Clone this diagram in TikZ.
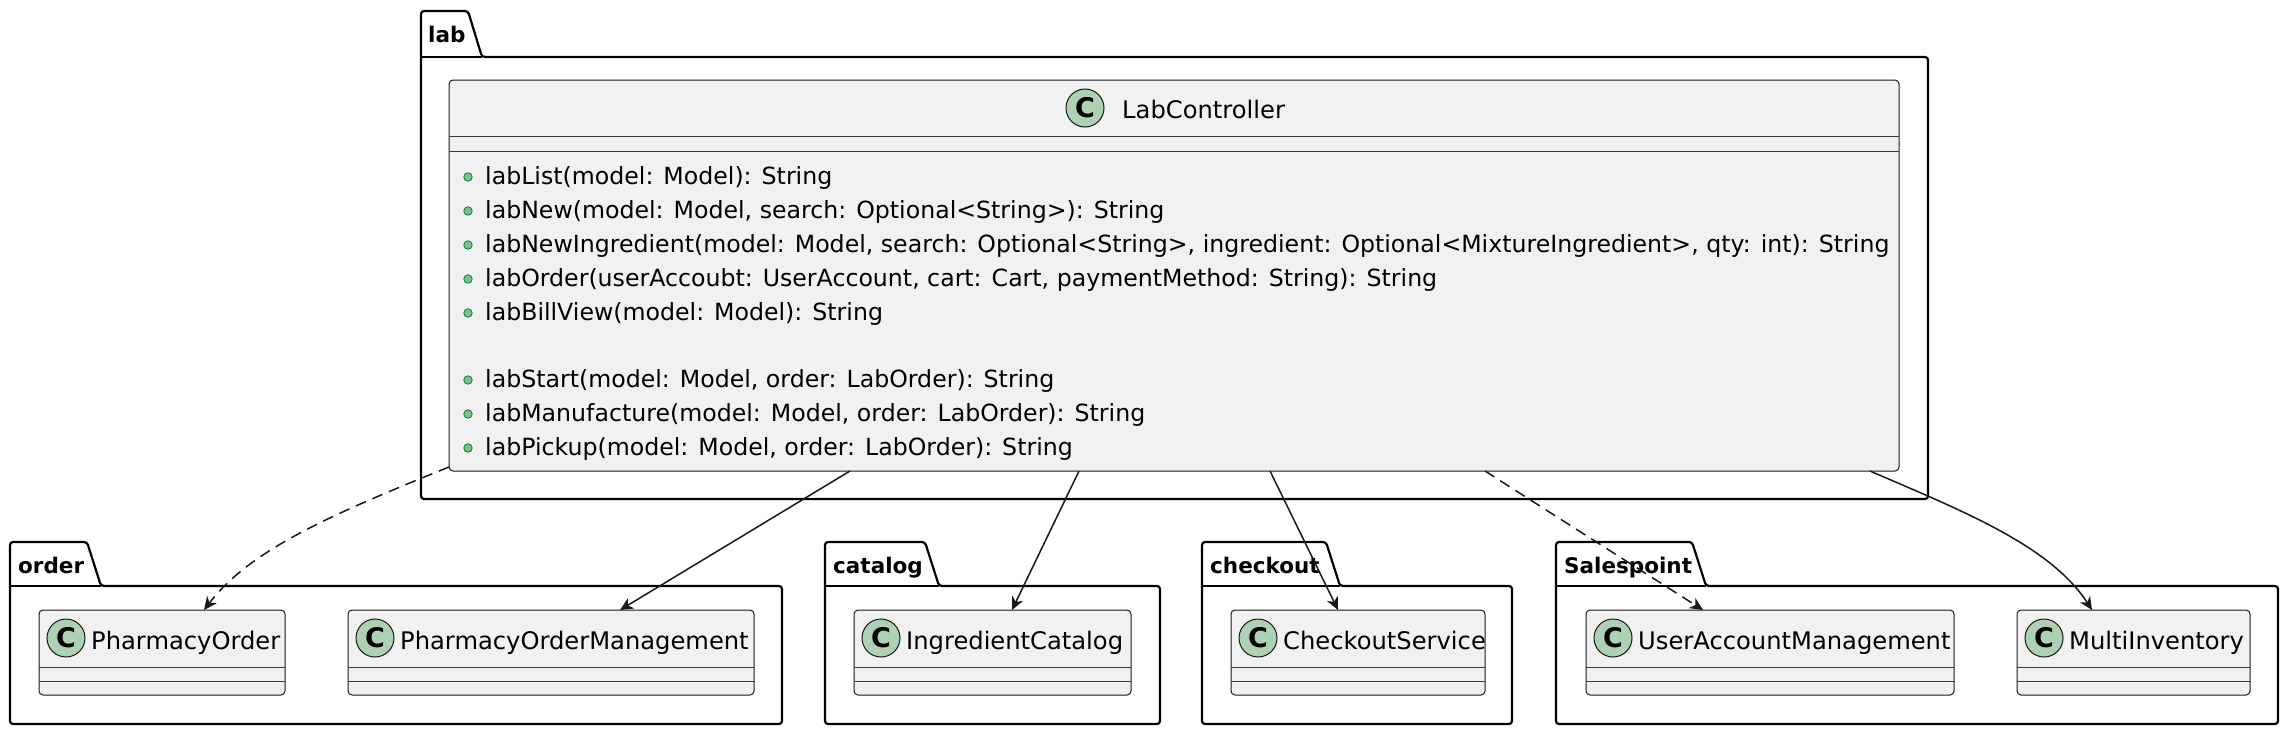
\documentclass[tikz,border=0pt]{standalone}
\usepackage{fontspec}
\setmainfont{DejaVu Sans}
\usetikzlibrary{arrows.meta}
\definecolor{clsfill}{HTML}{F1F1F1}
\definecolor{clsline}{HTML}{181818}
\definecolor{cfill}{HTML}{ADD1B2}
\definecolor{dotfill}{HTML}{84BE84}
\definecolor{dotline}{HTML}{038048}
\tikzset{
 pkgline/.style={draw=black, line width=2.2pt, rounded corners=3pt},
 classbox/.style={draw=clsline, fill=clsfill, line width=1pt, rounded corners=4pt, anchor=north west, inner sep=0pt, outer sep=0pt},
 sepline/.style={draw=clsline!85, line width=1pt},
 cmark/.style={circle, draw=clsline, fill=cfill, line width=1pt, minimum size=38pt, inner sep=0pt, font=\fontsize{27}{27}\selectfont\bfseries},
 clsname/.style={anchor=base west, inner sep=0pt, font=\fontsize{24.2}{29}\selectfont},
 method/.style={anchor=base west, inner sep=0pt, font=\fontsize{23.65}{29}\selectfont},
 pkgname/.style={anchor=base west, inner sep=0pt, font=\fontsize{21.5}{26}\selectfont\bfseries},
 mdot/.style={circle, draw=dotline, fill=dotfill, line width=0.8pt, minimum size=8.5pt, inner sep=0pt},
 dep/.style={draw=clsline, line width=1.5pt, -{Stealth[length=13pt,width=12pt,inset=4pt]}},
 dashdep/.style={dep, dash pattern=on 11pt off 7pt},
}
\newcommand\pkgrow[5]{%
 \draw[pkgline] (#2,724) -- (#2,542) -- (#3-14,542) -- (#3,586) -- (#4,586) -- (#4,724) -- cycle;
 \draw[pkgline, rounded corners=0pt] (#2,586) -- (#3,586);
 \node[pkgname] (#1) at (#2+8,573) {#5};
}
\newcommand\umlclass[4]{%
 \node[classbox, minimum width={#3-#2}, minimum height=85] (#1) at (#2,610) {};
 \node[cmark] (#1c) at (#2+27,638) {C};
 \node[clsname] (#1t) at (#2+52,649) {#4};
 \draw[sepline] (#2,667) -- (#3,667);
 \draw[sepline] (#2,681) -- (#3,681);
}
\newcommand\meth[3]{%
 \node[mdot] (#1d) at (468,#2-7) {};
 \node[method] (#1) at (485,#2) {#3};
}
\begin{document}
\begin{tikzpicture}[x=1pt,y=-1pt]
\useasboundingbox (0,0) rectangle (2290,736);
% packages
\draw[pkgline] (421,499) -- (421,11) -- (468,11) -- (482,57) -- (1928,57) -- (1928,499) -- cycle;
\draw[pkgline, rounded corners=0pt] (421,57) -- (482,57);
\node[pkgname] (labpkg) at (428,42) {lab};
\pkgrow{orderpkg}{10}{101}{782}{order}
\pkgrow{catalogpkg}{825}{939}{1160}{catalog}
\pkgrow{checkoutpkg}{1202}{1340}{1512}{checkout}
\pkgrow{salespkg}{1556}{1706}{2278}{Salespoint}
% LabController
\node[classbox, minimum width=1450, minimum height=391] (lc) at (449,80) {};
\node[cmark] (lcc) at (1085,108) {C};
\node[clsname] (lct) at (1122,118) {LabController};
\draw[sepline] (449,136) -- (1899,136);
\draw[sepline] (449,151) -- (1899,151);
\meth{m1}{184}{labList(model: Model): String}
\meth{m2}{218}{labNew(model: Model, search: Optional<String>): String}
\meth{m3}{252}{labNewIngredient(model: Model, search: Optional<String>, ingredient: Optional<MixtureIngredient>, qty: int): String}
\meth{m4}{286}{labOrder(userAccoubt: UserAccount, cart: Cart, paymentMethod: String): String}
\meth{m5}{320}{labBillView(model: Model): String}
\meth{m6}{387}{labStart(model: Model, order: LabOrder): String}
\meth{m7}{421}{labManufacture(model: Model, order: LabOrder): String}
\meth{m8}{455}{labPickup(model: Model, order: LabOrder): String}
% small classes
\umlclass{po}{39}{285}{PharmacyOrder}
\umlclass{pom}{348}{754}{PharmacyOrderManagement}
\umlclass{ic}{854}{1131}{IngredientCatalog}
\umlclass{cs}{1231}{1485}{CheckoutService}
\umlclass{uam}{1586}{1954}{UserAccountManagement}
\umlclass{mi}{2017}{2250}{MultiInventory}
% connectors
\draw[dashdep] ([yshift=4pt]lc.south west) .. controls +(-119,48) and +(46,-60) .. ([xshift=42pt]po.north);
\draw[dep] ([xshift=401pt]lc.south west) -- ([xshift=69pt]pom.north);
\draw[dep] ([xshift=630pt]lc.south west) -- ([xshift=19.5pt]ic.north);
\draw[dep] ([xshift=821pt]lc.south west) -- ([xshift=-20pt]cs.north);
\draw[dashdep] ([xshift=1036pt]lc.south west) -- ([xshift=-67pt]uam.north);
\draw[dep] ([xshift=1421pt]lc.south west) .. controls +(90,39) and +(-42,-65) .. ([xshift=-41.5pt]mi.north);
\end{tikzpicture}
\end{document}
